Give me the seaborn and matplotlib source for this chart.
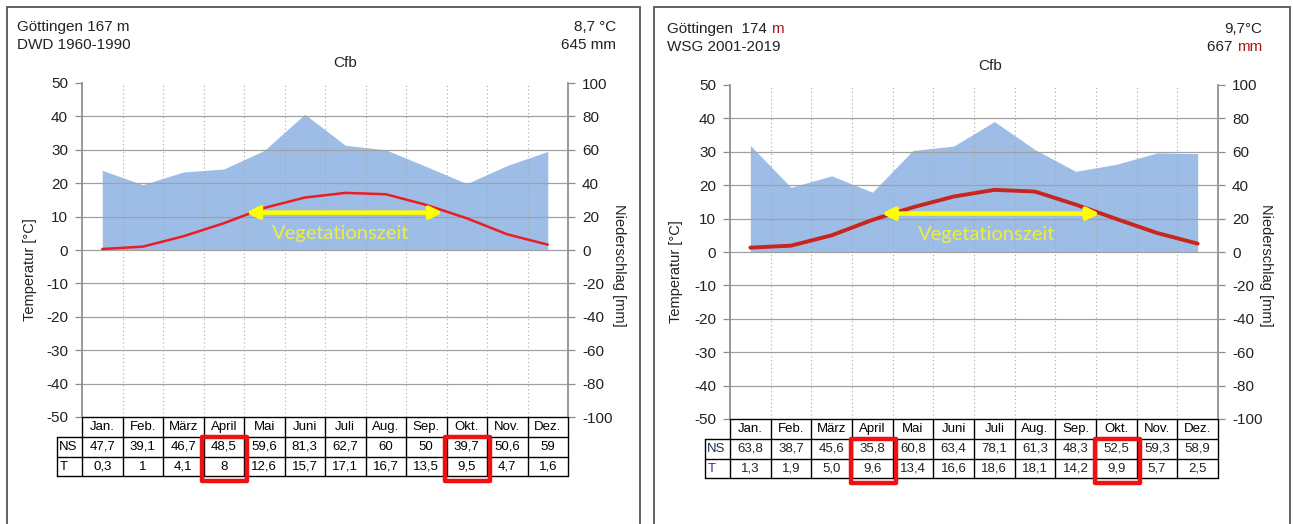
import matplotlib
matplotlib.use("Agg")
import matplotlib.pyplot as plt
import seaborn as sns
from matplotlib.patches import Rectangle

# ---- data -------------------------------------------------------------
months = ["Jan.", "Feb.", "März", "April", "Mai", "Juni",
          "Juli", "Aug.", "Sep.", "Okt.", "Nov.", "Dez."]

# DWD 1960-1990
ns_dwd = [47.7, 39.1, 46.7, 48.5, 59.6, 81.3, 62.7, 60, 50, 39.7, 50.6, 59]
t_dwd = [0.3, 1, 4.1, 8, 12.6, 15.7, 17.1, 16.7, 13.5, 9.5, 4.7, 1.6]

# WSG 2001-2019
ns_wsg = [63.8, 38.7, 45.6, 35.8, 60.8, 63.4, 78.1, 61.3, 48.3, 52.5, 59.3, 58.9]
t_wsg = [1.3, 1.9, 5.0, 9.6, 13.4, 16.6, 18.6, 18.1, 14.2, 9.9, 5.7, 2.5]

veg_months = ["April", "Okt."]
temp_ticks = list(range(-50, 51, 10))
prec_ticks = list(range(-100, 101, 20))

# ---- style ------------------------------------------------------------
sns.set_theme(style="white")
plt.rcParams["font.family"] = ["Liberation Sans", "DejaVu Sans"]
plt.rcParams["axes.unicode_minus"] = False

W, H = 1293, 524
fig = plt.figure(figsize=(W / 100, H / 100), dpi=100)


def px(x, y):
    return x / W, 1 - y / H


AREA = "#9dbde6"
GRID = "#a0a0a0"
TXT = "#222222"


def de(v, fixed):
    s = f"{v:.1f}" if fixed else f"{v:g}"
    return s.replace(".", ",")


def panel(rect, ns, t, fixed, line_color, line_w, arrow_span, arrow_y,
          label_color_ns="black", label_color_t="black", value_color="black"):
    ax = fig.add_axes(rect)
    ax2 = ax.twinx()
    x = list(range(len(months)))

    # precipitation area on the right-hand scale
    ax2.fill_between(x, ns, 0, color=AREA, lw=0, zorder=1)
    ax2.set_ylim(-100, 100)
    ax2.set_yticks(prec_ticks)

    # temperature axis on top of the area
    ax.set_zorder(ax2.get_zorder() + 1)
    ax.patch.set_visible(False)
    ax.set_xlim(-0.5, 11.5)
    ax.set_ylim(-50, 50)
    ax.set_yticks(temp_ticks)
    ax.set_xticks([])

    for g in temp_ticks[1:-1]:
        ax.axhline(g, color=GRID, lw=0.9, zorder=1)
    for b in range(1, 12):
        ax.plot([b - 0.5, b - 0.5], [-50, 50], color="#a4a8b0",
                lw=0.8, ls=(0, (1, 2.5)), zorder=1)

    sns.lineplot(x=x, y=t, ax=ax, color=line_color, lw=line_w, zorder=3)

    # vegetation period arrow
    ax.annotate("", xy=(arrow_span[0], arrow_y), xytext=(arrow_span[1], arrow_y),
                arrowprops=dict(arrowstyle="<|-|>", color="#ffff00", lw=3.2,
                                mutation_scale=18, shrinkA=0, shrinkB=0),
                zorder=4)
    ax.text(sum(arrow_span) / 2 - 0.1, arrow_y - 6.2, "Vegetationszeit",
            family=["Lato", "DejaVu Sans"], fontsize=14.5, color="#eeee3c",
            ha="center", va="center", zorder=4)

    for a in (ax, ax2):
        for s in a.spines.values():
            s.set_visible(False)
        a.tick_params(axis="y", direction="out", length=5, width=0.9,
                      color="#8c8c8c", labelsize=11, labelcolor=TXT, pad=5)
    ax.spines["left"].set_visible(True)
    ax.spines["left"].set_color("#8c8c8c")
    ax2.spines["right"].set_visible(True)
    ax2.spines["right"].set_color("#8c8c8c")
    ax.tick_params(axis="y", left=True, right=False)
    ax2.tick_params(axis="y", left=False, right=True)

    # data table below the diagram
    rows = [-50, -55.9, -61.9, -67.8]
    kw = dict(color="black", lw=1.0, clip_on=False, zorder=5)
    lab_l = -1.115
    ax.plot([-0.5, 11.5], [rows[0], rows[0]], **kw)
    for r in rows[1:]:
        ax.plot([lab_l, 11.5], [r, r], **kw)
    ax.plot([lab_l, lab_l], [rows[1], rows[3]], **kw)
    for b in range(13):
        ax.plot([b - 0.5, b - 0.5], [rows[0], rows[3]], **kw)
    tk = dict(ha="center", va="center", fontsize=9.5, clip_on=False, zorder=6)
    for i, m in enumerate(months):
        ax.text(i, (rows[0] + rows[1]) / 2, m, color="black", **tk)
        ax.text(i, (rows[1] + rows[2]) / 2, de(ns[i], fixed), color=value_color, **tk)
        ax.text(i, (rows[2] + rows[3]) / 2, de(t[i], fixed), color=value_color, **tk)
    ax.text(lab_l + 0.04, (rows[1] + rows[2]) / 2, "NS", ha="left", va="center",
            fontsize=9.5, color=label_color_ns, clip_on=False, zorder=6)
    ax.text(lab_l + 0.06, (rows[2] + rows[3]) / 2, "T", ha="left", va="center",
            fontsize=9.5, color=label_color_t, clip_on=False, zorder=6)

    # red frames around start and end of the vegetation period
    for m in veg_months:
        i = months.index(m)
        ax.add_patch(Rectangle((i - 0.53, rows[3] - 1.3), 1.1, rows[1] - rows[3] + 1.3,
                               fill=False, ec="#ee1111", lw=3.2, clip_on=False,
                               zorder=7, joinstyle="round"))
    return ax, ax2


# ---- left panel: DWD 1960-1990 ---------------------------------------
fig.add_artist(Rectangle(px(7, 600), 633 / W, 593 / H, transform=fig.transFigure,
                         fill=False, ec="#555555", lw=1.3))
l, b = px(82, 417)
panel([l, b, 486 / W, 334 / H], ns_dwd, t_dwd, False, "#ea1c24", 1.8,
      (3.55, 8.41), 11.2)
HF = 11
fig.text(*px(17, 27), "Göttingen 167 m", fontsize=HF, color=TXT, va="center")
fig.text(*px(17, 45), "DWD 1960-1990", fontsize=HF, color=TXT, va="center")
fig.text(*px(616, 27), "8,7 °C", fontsize=HF, color=TXT, va="center", ha="right")
fig.text(*px(616, 45), "645 mm", fontsize=HF, color=TXT, va="center", ha="right")
fig.text(*px(345, 63), "Cfb", fontsize=HF, color=TXT, va="center", ha="center")
fig.text(*px(30, 270), "Temperatur [°C]", fontsize=10.5, color=TXT, rotation=90,
         va="center", ha="center")
fig.text(*px(619, 265), "Niederschlag [mm]", fontsize=10.5, color=TXT, rotation=-90,
         va="center", ha="center")

# ---- right panel: WSG 2001-2019 --------------------------------------
fig.add_artist(Rectangle(px(654, 600), 636 / W, 593 / H, transform=fig.transFigure,
                         fill=False, ec="#555555", lw=1.3))
l, b = px(730, 419)
panel([l, b, 488 / W, 334 / H], ns_wsg, t_wsg, True, "#c8261c", 2.8,
      (3.23, 8.59), 11.5, label_color_ns="#1c2d5a", label_color_t="#1c3f8c",
      value_color="#222222")
DARKRED = "#b01818"
t1 = fig.text(*px(667, 29), "Göttingen  174 ", fontsize=HF, color=TXT, va="center")
fig.text(*px(667, 47), "WSG 2001-2019", fontsize=HF, color=TXT, va="center")
fig.canvas.draw()
bb = t1.get_window_extent()
fig.text(bb.x1 / W, px(0, 29)[1], "m", fontsize=HF, color=DARKRED, va="center")
fig.text(*px(1262, 29), "9,7°C", fontsize=HF, color=TXT, va="center", ha="right")
t2 = fig.text(*px(1262, 47), "mm", fontsize=HF, color=DARKRED, va="center", ha="right")
fig.canvas.draw()
bb2 = t2.get_window_extent()
fig.text(bb2.x0 / W, px(0, 47)[1], "667 ", fontsize=HF, color=TXT, va="center",
         ha="right")
fig.text(*px(990, 66), "Cfb", fontsize=HF, color=TXT, va="center", ha="center")
fig.text(*px(676, 272), "Temperatur [°C]", fontsize=10.5, color=TXT, rotation=90,
         va="center", ha="center")
fig.text(*px(1266, 265), "Niederschlag [mm]", fontsize=10.5, color=TXT, rotation=-90,
         va="center", ha="center")

fig.savefig("out.png", dpi=100, facecolor="white")
